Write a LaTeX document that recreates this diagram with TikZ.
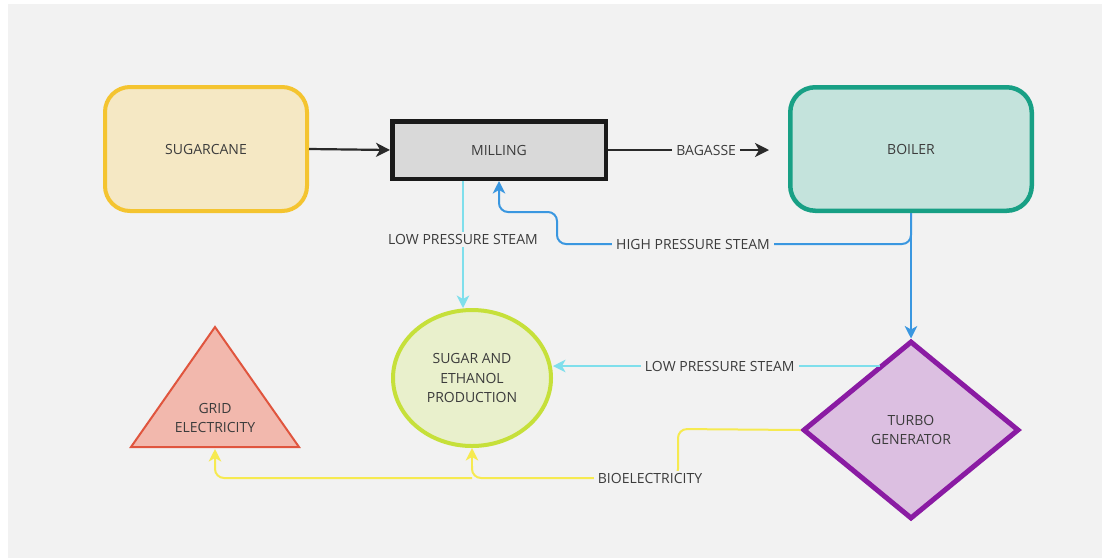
\documentclass[tikz,border=0pt]{standalone}
\usepackage{fontspec}
\setmainfont{Open Sans}
\usetikzlibrary{shapes.geometric,arrows.meta,calc}
\definecolor{bg}{HTML}{F2F2F2}
\definecolor{txt}{HTML}{3C3C3C}
\definecolor{scB}{HTML}{F4C430}
\definecolor{scF}{HTML}{F5E8C4}
\definecolor{miF}{HTML}{D9D9D9}
\definecolor{miB}{HTML}{1A1A1A}
\definecolor{boB}{HTML}{18A085}
\definecolor{boF}{HTML}{C4E3DC}
\definecolor{spB}{HTML}{C6E03A}
\definecolor{spF}{HTML}{E9F0CC}
\definecolor{trB}{HTML}{E0553E}
\definecolor{trF}{HTML}{F2B8AD}
\definecolor{tgB}{HTML}{8A1BA3}
\definecolor{tgF}{HTML}{DCBFE1}
\definecolor{hpC}{HTML}{3A97E0}
\definecolor{lpC}{HTML}{7FDFEC}
\definecolor{yeC}{HTML}{F6EA50}
\definecolor{blkC}{HTML}{2A2A2A}
\tikzset{
  base/.style={font=\fontsize{14}{19.5}\selectfont, text=txt, align=center, inner sep=0pt},
  rbox/.style={base, rounded corners=25pt},
  lbl/.style={font=\fontsize{14}{19.5}\selectfont, text=txt, fill=bg, inner xsep=4pt, inner ysep=2pt},
  tipA/.style={-{Stealth[length=14pt,width=14pt,inset=4pt]}},
  tipB/.style={-{Stealth[length=12.5pt,width=12.5pt,inset=3.5pt]}},
  blkline/.style={draw=blkC, line width=2.2pt, tipA},
  hpline/.style={draw=hpC, line width=2pt, tipB},
  lpline/.style={draw=lpC, line width=1.7pt, tipB},
  yeline/.style={draw=yeC, line width=2pt},
}
\begin{document}
\begin{tikzpicture}[x=1pt,y=-1pt]
\useasboundingbox (0,0) rectangle (1102,558);
\fill[white] (0,0) rectangle (1102,558);
\fill[bg] (8,4) rectangle (1102,558);

% nodes
\node[rbox, draw=scB, fill=scF, line width=4pt, minimum width=202pt, minimum height=124pt] (sugar) at (206,149) {SUGARCANE};
\node[base, draw=miB, fill=miF, line width=4.5pt, minimum width=213.5pt, minimum height=57.5pt] (milling) at (499,150) {MILLING};
\node[rbox, draw=boB, fill=boF, line width=4.5pt, minimum width=241.5pt, minimum height=123.5pt] (boiler) at (911,149) {BOILER};
\node[base, ellipse, draw=spB, fill=spF, line width=4pt, minimum width=158pt, minimum height=136pt] (prod) at (472,378) {SUGAR AND\\ETHANOL\\PRODUCTION};
\node[base, diamond, draw=tgB, fill=tgF, line width=5pt, minimum width=216pt, minimum height=178pt] (turbo) at (911,430) {TURBO\\GENERATOR};
\draw[draw=trB, fill=trF, line width=2pt, line join=miter] (131,447) -- (215,327) -- (299,447) -- cycle;
\node[base] (grid) at (215,418) {GRID\\ELECTRICITY};

% coordinates
\coordinate (bagend) at (769,150);
\coordinate (lpx) at (463,0);
\coordinate (hpA) at (557,244);
\coordinate (hpB) at (557,212);
\coordinate (lp2) at (880,366);
\coordinate (yeA) at (678,429);
\coordinate (yeB) at (678,478);
\coordinate (yeJ) at (472,478);
\coordinate (yeG) at (215,478);
\coordinate (gridbase) at (215,449);

% connectors
\draw[blkline] (sugar.east) -- (milling.west);
\draw[blkline] (milling.east) -- node[lbl, pos=0.61] {BAGASSE} (bagend);
\draw[lpline] (milling.south -| lpx) -- node[lbl, pos=0.46] {LOW PRESSURE STEAM} (prod.north -| lpx);
\draw[hpline] (boiler.south) -- (turbo.north);
\draw[hpline, rounded corners=9pt] (boiler.south) |- (hpA) -- (hpB) -| (milling.south);
\node[lbl] at (693,244) {HIGH PRESSURE STEAM};
\draw[lpline] (lp2) -- node[lbl, pos=0.49] {LOW PRESSURE STEAM} (lp2 -| prod.east);
\draw[yeline, rounded corners=9pt] (turbo.west) -- (yeA) -- (yeB) -- (yeJ) -- ++(0,-12);
\draw[yeline, tipB] (yeJ) ++(0,-10) -- (prod.south);
\draw[yeline, rounded corners=9pt, tipB] (yeJ) -- (yeG) -- (gridbase);
\node[lbl] (bio) at (650,478) {BIOELECTRICITY};
\end{tikzpicture}
\end{document}
